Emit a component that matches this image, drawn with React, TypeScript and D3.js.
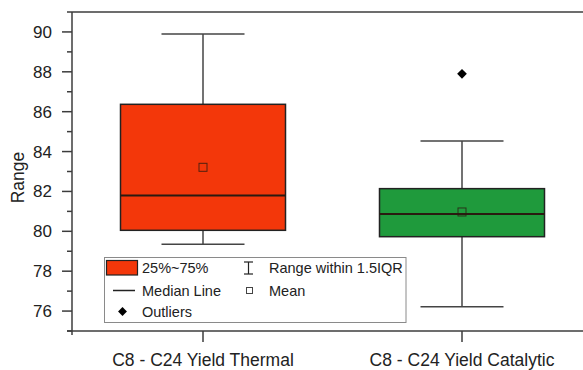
import React from "react";
import * as d3 from "d3";

// Box statistics per category
const categories = ["C8 - C24 Yield Thermal", "C8 - C24 Yield Catalytic"];
const q1 = [80.05, 79.73];
const median = [81.79, 80.87];
const q3 = [86.37, 82.14];
const mean = [83.21, 80.97];
const whiskerLow = [79.35, 76.22];
const whiskerHigh = [89.9, 84.53];
const outliers: number[][] = [[], [87.9]];
const fills = ["#F3370A", "#1F9A3C"];

const yMajorTicks = [76, 78, 80, 82, 84, 86, 88, 90];
const yMinorTicks = [75, 77, 79, 81, 83, 85, 87, 89, 91];

const W = 583;
const H = 370;
const left = 72;
const right = 583;
const top = 12;
const bottom = 331;
const font = "'Liberation Sans', Arial, Helvetica, sans-serif";
const axisColor = "#3c3c3c";

export default function App() {
  const y = d3.scaleLinear().domain([75, 91]).range([bottom, top]);
  const x = d3.scalePoint<string>().domain(categories).range([203, 462]);
  const boxHalf = 82.5;
  const capHalf = 41.5;

  return (
    <svg
      width={W}
      height={H}
      style={{ position: "absolute", left: 0, top: 0, background: "#fff" }}
      fontFamily={font}
    >
      {/* boxes */}
      {categories.map((c, i) => {
        const cx = x(c)!;
        return (
          <g key={c}>
            <line x1={cx} x2={cx} y1={y(whiskerHigh[i])} y2={y(q3[i])} stroke="#444" strokeWidth={1.5} />
            <line x1={cx} x2={cx} y1={y(q1[i])} y2={y(whiskerLow[i])} stroke="#444" strokeWidth={1.5} />
            <line x1={cx - capHalf} x2={cx + capHalf} y1={y(whiskerHigh[i])} y2={y(whiskerHigh[i])} stroke="#444" strokeWidth={1.5} />
            <line x1={cx - capHalf} x2={cx + capHalf} y1={y(whiskerLow[i])} y2={y(whiskerLow[i])} stroke="#444" strokeWidth={1.5} />
            <rect
              x={cx - boxHalf}
              y={y(q3[i])}
              width={boxHalf * 2}
              height={y(q1[i]) - y(q3[i])}
              fill={fills[i]}
              stroke="#222"
              strokeWidth={1.5}
            />
            <line x1={cx - boxHalf} x2={cx + boxHalf} y1={y(median[i])} y2={y(median[i])} stroke="#2a1a10" strokeWidth={2} />
            <rect x={cx - 4} y={y(mean[i]) - 4} width={8} height={8} fill="none" stroke="#2a1a10" strokeOpacity={0.8} strokeWidth={1} />
            {outliers[i].map((o, j) => (
              <path
                key={j}
                d={d3.symbol(d3.symbolDiamond2, 60)()!}
                transform={`translate(${cx},${y(o)})`}
                fill="#000"
              />
            ))}
          </g>
        );
      })}

      {/* frame lines */}
      <line x1={left} x2={right} y1={top} y2={top} stroke={axisColor} strokeWidth={1.5} />
      <line x1={left - 5} x2={right} y1={bottom} y2={bottom} stroke={axisColor} strokeWidth={1.5} />
      <line x1={left} x2={left} y1={top} y2={bottom + 4} stroke={axisColor} strokeWidth={1.5} />

      {/* y axis ticks */}
      {yMinorTicks.map((t) => (
        <line key={"m" + t} x1={left - 5} x2={left} y1={y(t)} y2={y(t)} stroke={axisColor} strokeWidth={1.5} />
      ))}
      {yMajorTicks.map((t) => (
        <g key={t}>
          <line x1={left - 10} x2={left} y1={y(t)} y2={y(t)} stroke={axisColor} strokeWidth={1.5} />
          <text x={52} y={y(t)} dy="0.35em" textAnchor="end" fontSize={17} fill="#222">
            {t}
          </text>
        </g>
      ))}
      <text
        transform={`translate(24,${(top + bottom) / 2 + 6}) rotate(-90)`}
        textAnchor="middle"
        fontSize={17.5}
        fill="#222"
      >
        Range
      </text>

      {/* x axis ticks */}
      {categories.map((c) => (
        <g key={c}>
          <line x1={x(c)} x2={x(c)} y1={bottom} y2={bottom + 11} stroke={axisColor} strokeWidth={1.5} />
          <text x={x(c)} y={366} textAnchor="middle" fontSize={17.5} fill="#222">
            {c}
          </text>
        </g>
      ))}

      {/* legend */}
      <g fontSize={14.5} fill="#222">
        <rect x={104.5} y={257.5} width={301.5} height={65} fill="#fff" stroke="#8a8a8a" strokeWidth={1} />
        <rect x={106.5} y={260.5} width={31} height={14.5} fill={fills[0]} stroke="#222" strokeWidth={1.2} />
        <text x={142} y={273}>25%~75%</text>
        <line x1={244} x2={253} y1={262} y2={262} stroke="#222" strokeWidth={1.2} />
        <line x1={244} x2={253} y1={274} y2={274} stroke="#222" strokeWidth={1.2} />
        <line x1={248.5} x2={248.5} y1={262} y2={274} stroke="#222" strokeWidth={1.2} />
        <text x={269} y={273}>Range within 1.5IQR</text>
        <line x1={113} x2={135} y1={290.5} y2={290.5} stroke="#222" strokeWidth={1.5} />
        <text x={142} y={295.5}>Median Line</text>
        <rect x={246.5} y={287.5} width={6} height={6} fill="none" stroke="#444" strokeWidth={1} />
        <text x={269} y={295.5}>Mean</text>
        <path d={d3.symbol(d3.symbolDiamond2, 50)()!} transform="translate(122.5,311.5)" fill="#000" />
        <text x={142} y={317}>Outliers</text>
      </g>
    </svg>
  );
}
